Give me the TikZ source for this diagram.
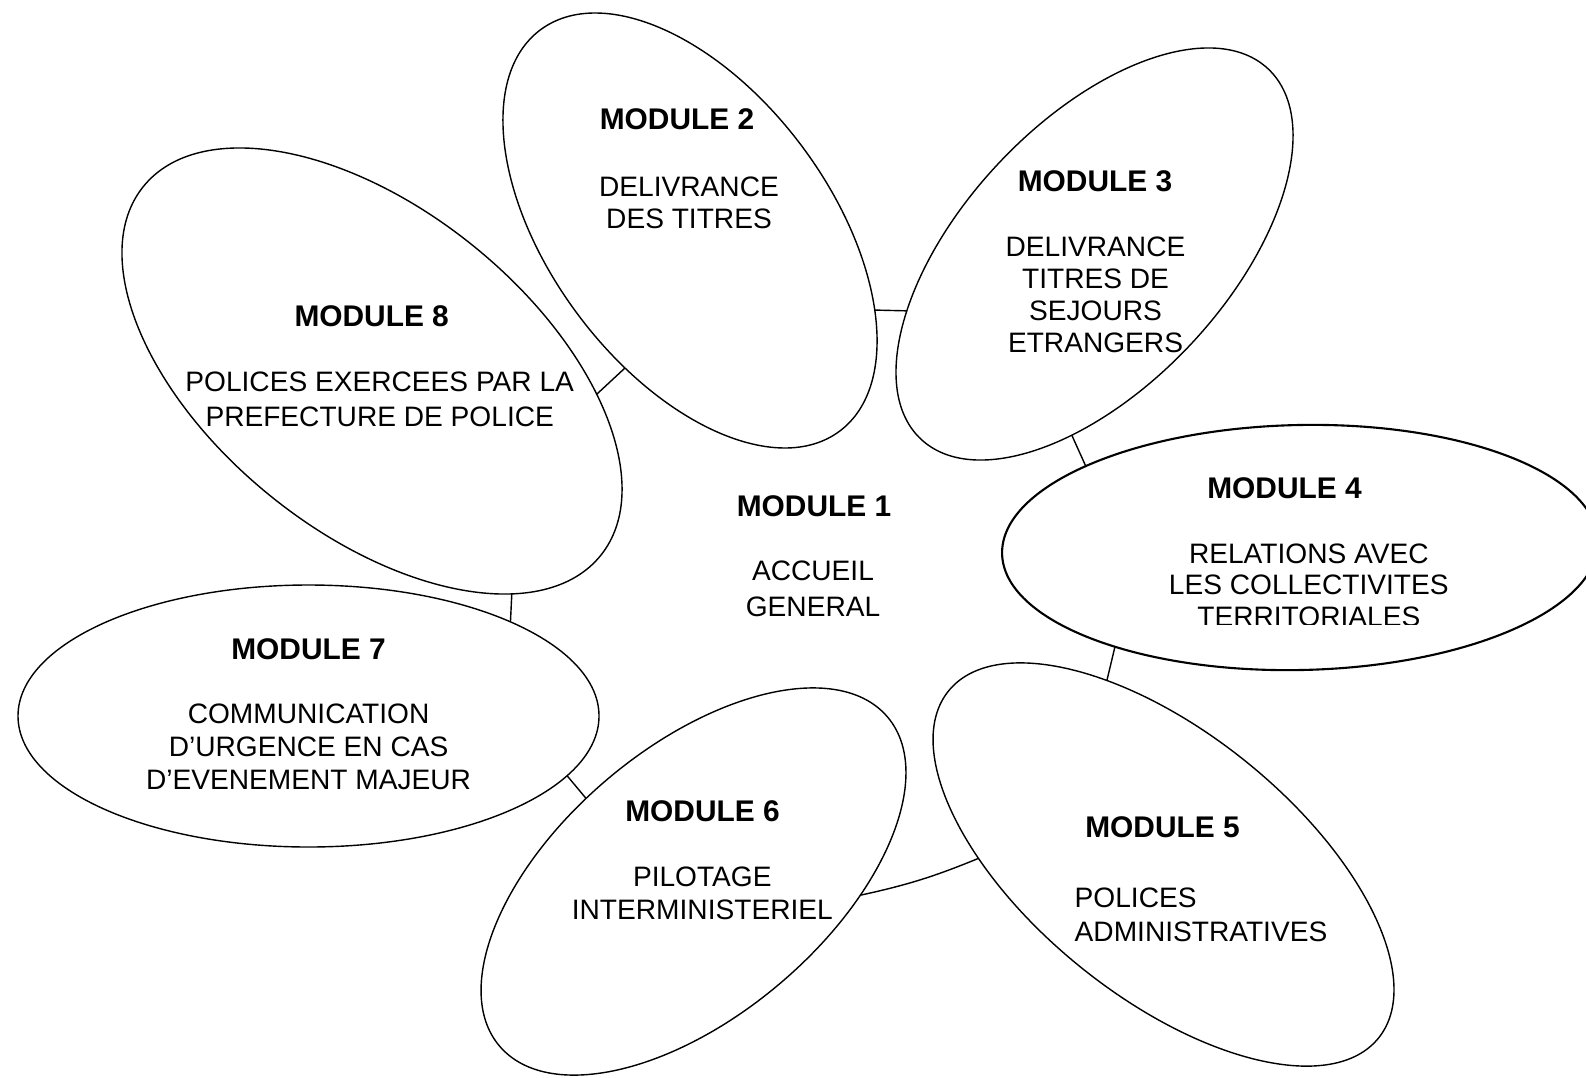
\documentclass[tikz,border=0pt]{standalone}
\usepackage{fontspec}
\setmainfont{Liberation Sans}
\usetikzlibrary{shapes.geometric}

\tikzset{
	ring/.style={draw, ellipse, line width=0.4pt, inner sep=0pt, outer sep=0pt},
	modtitle/.style={anchor=base, inner sep=0pt, font=\fontsize{8.5pt}{10pt}\selectfont\bfseries},
	modtext/.style={anchor=north, align=center, inner sep=0pt, font=\fontsize{8pt}{#1}\selectfont},
	modtext/.default=9pt,
	link/.style={line width=0.4pt}
}

\begin{document}
\begin{tikzpicture}
	\useasboundingbox (0cm, 0cm) rectangle (15.86cm, -10.77cm);

	\node [ring, minimum width=5.006cm, minimum height=2.802cm, rotate=-53.3] (ring2) at (6.90cm, -2.305cm) {};
	\node [ring, minimum width=5.076cm, minimum height=2.64cm, rotate=46.85] (ring3) at (10.945cm, -2.54cm) {};
	\node [ring, line width=0.6pt, minimum width=5.96cm, minimum height=2.45cm, rotate=1.2] (ring4) at (13.00cm, -5.475cm) {};
	\node [ring, minimum width=5.526cm, minimum height=2.638cm, rotate=-38.9] (ring5) at (11.635cm, -8.645cm) {};
	\node [ring, minimum width=5.088cm, minimum height=2.674cm, rotate=40.3] (ring6) at (6.935cm, -8.815cm) {};
	\node [ring, minimum width=5.81cm, minimum height=2.62cm] (ring7) at (3.085cm, -7.16cm) {};
	\node [ring, minimum width=5.876cm, minimum height=3.22cm, rotate=-38.9] (ring8) at (3.72cm, -3.71cm) {};

	\draw [link] (ring8.33) -- (ring2.-62);
	\draw [link] (ring2.30) -- (ring3.150);
	\draw [link] (ring3.216) -- (ring4.158);
	\draw [link] (ring4.207) -- (ring5.146);
	\draw [link] (ring5.217) to [bend left=5] (ring6.-45);
	\draw [link] (ring6.102) -- (ring7.-13);
	\draw [link] (ring7.25) -- (ring8.-19);

	\node [modtitle] (mod1) at (8.14cm, -5.16cm) {MODULE 1};
	\node [modtext=10.2pt] (txt1) at (8.13cm, -5.605cm) {ACCUEIL\\GENERAL};

	\node [modtitle] (mod2) at (6.77cm, -1.30cm) {MODULE 2};
	\node [modtext] (txt2) at (6.89cm, -1.762cm) {DELIVRANCE\\DES TITRES};

	\node [modtitle] (mod3) at (10.95cm, -1.917cm) {MODULE 3};
	\node [modtext=9.1pt] (txt3) at (10.955cm, -2.362cm) {DELIVRANCE\\TITRES DE\\SEJOURS\\ETRANGERS};

	\node [modtitle] (mod4) at (12.845cm, -4.983cm) {MODULE 4};
	\begin{scope}
		\clip (11.5cm, -5.2cm) rectangle (14.8cm, -6.245cm);
		\node [modtext] (txt4) at (13.088cm, -5.428cm) {RELATIONS AVEC\\LES COLLECTIVITES\\TERRITORIALES};
	\end{scope}

	\node [modtitle] (mod5) at (11.625cm, -8.373cm) {MODULE 5};
	\node [modtext=9.8pt, anchor=north west, align=left] (txt5) at (10.74cm, -8.868cm) {POLICES\\ADMINISTRATIVES};

	\node [modtitle] (mod6) at (7.025cm, -8.217cm) {MODULE 6};
	\node [modtext=9.5pt] (txt6) at (7.023cm, -8.662cm) {PILOTAGE\\INTERMINISTERIEL};

	\node [modtitle] (mod7) at (3.085cm, -6.593cm) {MODULE 7};
	\node [modtext=9.4pt] (txt7) at (3.086cm, -7.035cm) {COMMUNICATION\\D’URGENCE EN CAS\\D’EVENEMENT MAJEUR};

	\node [modtitle] (mod8) at (3.717cm, -3.267cm) {MODULE 8};
	\node [modtext=9.95pt] (txt8) at (3.797cm, -3.712cm) {POLICES EXERCEES PAR LA\\PREFECTURE DE POLICE};
\end{tikzpicture}
\end{document}
